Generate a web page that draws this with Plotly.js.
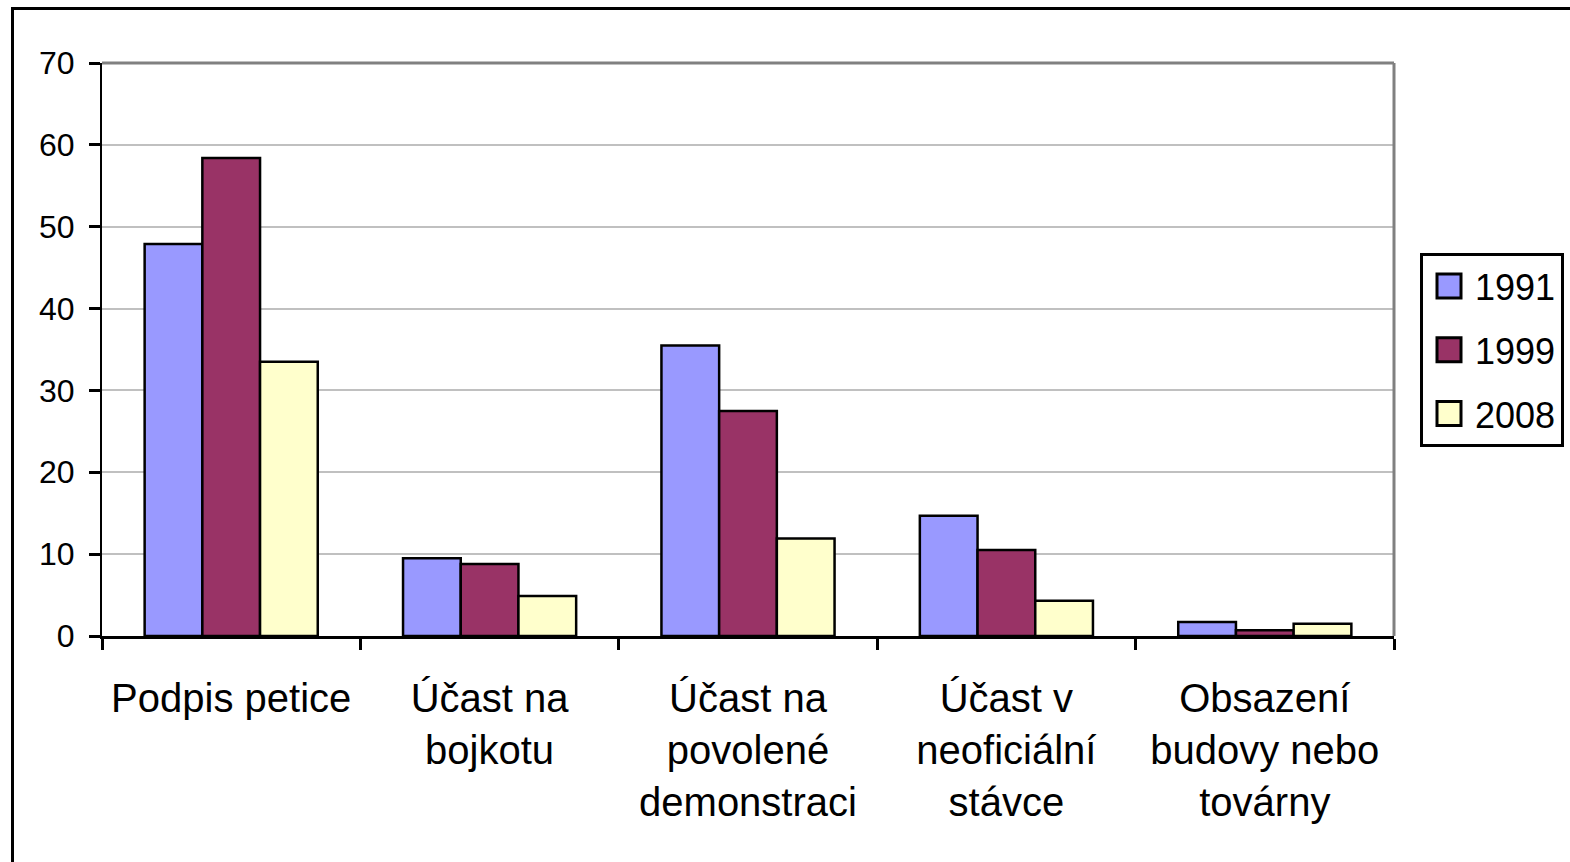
<!DOCTYPE html>
<html>
<head>
<meta charset="utf-8">
<script src="https://cdn.plot.ly/plotly-3.0.1.min.js"></script>
<style>
html,body{margin:0;padding:0;background:#fff;overflow:hidden;}
#chart{width:1570px;height:862px;}
</style>
</head>
<body>
<div id="chart"></div>
<script>
var categories = ["Podpis petice", "Účast na<br>bojkotu", "Účast na<br>povolené<br>demonstraci", "Účast v<br>neoficiální<br>stávce", "Obsazení<br>budovy nebo<br>továrny"];
var seriesNames = ["1991", "1999", "2008"];
var values1991 = [47.9, 9.5, 35.5, 14.7, 1.7];
var values1999 = [58.4, 8.8, 27.5, 10.5, 0.7];
var values2008 = [33.5, 4.9, 11.9, 4.3, 1.5];
var colors = ["#9999FF", "#993366", "#FFFFCC"];
var yTicks = [0, 10, 20, 30, 40, 50, 60, 70];

var allValues = [values1991, values1999, values2008];
var traces = allValues.map(function(v, i){
  return {
    type: "bar",
    name: seriesNames[i],
    x: categories,
    y: v,
    legendgroup: "g" + i,
    marker: {color: colors[i], line: {color: "#000", width: 2.5}},
    hoverinfo: "x+y+name"
  };
});

var font = "Liberation Sans, Arial, sans-serif";
var ml = 102, mr = 176, mt = 63, mb = 226;
var pw = 1570 - ml - mr, ph = 862 - mt - mb;

var layout = {
  width: 1570, height: 862,
  margin: {l: ml, r: mr, t: mt, b: mb, pad: 0, autoexpand: false},
  paper_bgcolor: "#fff", plot_bgcolor: "#fff",
  barmode: "group",
  bargap: 0.33, bargroupgap: 0,
  font: {family: font, color: "#000"},
  showlegend: true,
  legend: {
    x: (1420 - ml) / pw, xanchor: "left",
    y: 1 + (mt - 253) / ph, yanchor: "top",
    bordercolor: "#000", borderwidth: 3,
    bgcolor: "#fff",
    font: {family: font, size: 36, color: "#000"},
    traceorder: "grouped",
    tracegroupgap: 14,
    itemwidth: 42,
    entrywidth: 160
  },
  xaxis: {
    type: "category",
    tickson: "boundaries",
    ticks: "outside", ticklen: 11, tickwidth: 3, tickcolor: "#000",
    showline: true, linecolor: "#000", linewidth: 3,
    showgrid: false, zeroline: false,
    tickfont: {family: font, size: 40, color: "#000"},
    ticklabelstandoff: 25,
    automargin: false,
    fixedrange: true
  },
  yaxis: {
    range: [0, 70],
    tickvals: yTicks,
    ticks: "outside", ticklen: 11, tickwidth: 3, tickcolor: "#000",
    showline: true, linecolor: "#000", linewidth: 2,
    showgrid: true, gridcolor: "#c0c0c0", gridwidth: 2,
    zeroline: false,
    tickfont: {family: font, size: 32, color: "#000"},
    ticklabelstandoff: 8,
    automargin: false,
    fixedrange: true
  },
  shapes: [
    {type: "line", xref: "paper", yref: "paper", x0: 0, x1: 1, y0: 1, y1: 1,
     line: {color: "#808080", width: 3}},
    {type: "line", xref: "paper", yref: "paper", x0: 1, x1: 1, y0: 0, y1: 1,
     line: {color: "#808080", width: 3}},
    {type: "rect", xref: "paper", yref: "paper",
     x0: (12.5 - ml) / pw, x1: 2, y0: -2, y1: 1 + (mt - 8.5) / ph,
     line: {color: "#000", width: 3}, fillcolor: "rgba(0,0,0,0)", layer: "above"}
  ]
};

Plotly.newPlot("chart", traces, layout, {displayModeBar: false, staticPlot: true}).then(function(gd){
  var paths = gd.querySelectorAll(".legendpoints path");
  paths.forEach(function(p){ p.setAttribute("d", "M12,12H-12V-12H12Z"); p.style.strokeWidth = "3px"; });
});
</script>
</body>
</html>
